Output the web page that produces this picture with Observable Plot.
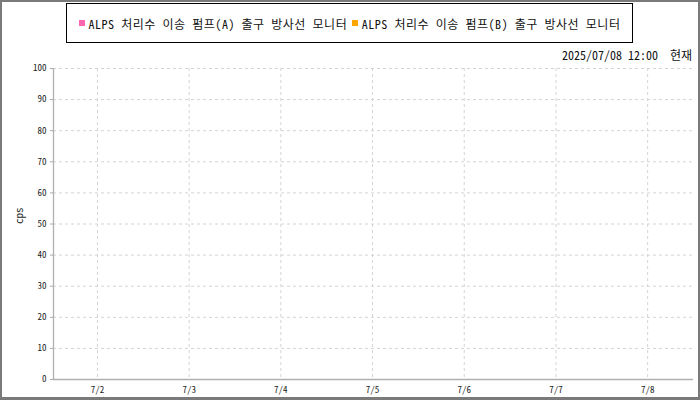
<!DOCTYPE html>
<html>
<head>
<meta charset="utf-8">
<script src="https://cdn.jsdelivr.net/npm/d3@7"></script>
<script src="https://cdn.jsdelivr.net/npm/@observablehq/plot@0.6"></script>
<style>
  html, body { margin: 0; padding: 0; background: #fff; }
  #wrap { position: relative; width: 700px; height: 400px; overflow: hidden;
    font-family: "Noto Sans Mono CJK KR", "Noto Sans CJK KR", "DejaVu Sans Mono", monospace; }
  #frame { position: absolute; left: 0; top: 0; width: 700px; height: 400px; box-sizing: border-box;
    border: 2px solid #7a7a7a; border-bottom-width: 3px; pointer-events: none; z-index: 5; }
  #header { position: relative; height: 62px; }
  #legend { position: absolute; left: 66px; top: 3px; width: 567px; height: 40px; box-sizing: border-box;
    border: 1.3px solid #000; display: flex; align-items: center; padding-left: 12px; font-size: 12px; color: #111; white-space: nowrap; letter-spacing: 0.54px; }
  .item { display: inline-flex; align-items: center; margin-right: 5px; }
  .sw { width: 6px; height: 6px; display: inline-block; margin-right: 3.5px; }
  #stamp { position: absolute; right: 8px; top: 46px; font-size: 12px; color: #111; white-space: pre; }
  svg { display: block; }
</style>
</head>
<body>
<div id="wrap">
  <div id="frame"></div>
  <div id="header">
    <div id="legend"></div>
    <div id="stamp"></div>
  </div>
  <div id="chart"></div>
</div>
<script>
// ---- data ----
const seriesNames = ["ALPS 처리수 이송 펌프(A) 출구 방사선 모니터", "ALPS 처리수 이송 펌프(B) 출구 방사선 모니터"];
const seriesColors = ["#ff66b2", "#ffa500"];
const seriesA = [];   // no values shown in the reference
const seriesB = [];   // no values shown in the reference
const xTickDates = ["2025-07-02", "2025-07-03", "2025-07-04", "2025-07-05", "2025-07-06", "2025-07-07", "2025-07-08"];
const xDomain = ["2025-07-01T12:30", "2025-07-08T12:00"];
const yTicks = [0, 10, 20, 30, 40, 50, 60, 70, 80, 90, 100];
const yDomain = [0, 100];
const yLabel = "cps";
const stampText = "2025/07/08 12:00  현재";

// ---- legend / header ----
const legend = document.getElementById("legend");
seriesNames.forEach((name, i) => {
  const it = document.createElement("span");
  it.className = "item";
  const sw = document.createElement("span");
  sw.className = "sw";
  sw.style.background = seriesColors[i];
  it.appendChild(sw);
  it.appendChild(document.createTextNode(name));
  legend.appendChild(it);
});
document.getElementById("stamp").textContent = stampText;

// ---- chart ----
const parseDay = s => { const [y, m, d] = s.split("-").map(Number); return new Date(y, m - 1, d); };
const parseDT = s => { const [dp, tp] = s.split("T"); const [y, m, d] = dp.split("-").map(Number); const [hh, mm] = tp.split(":").map(Number); return new Date(y, m - 1, d, hh, mm); };
const ticksX = xTickDates.map(parseDay);
const domX = xDomain.map(parseDT);

const rows = [
  ...seriesA.map(d => ({...d, series: seriesNames[0]})),
  ...seriesB.map(d => ({...d, series: seriesNames[1]}))
];

const fontFam = '"Noto Sans Mono CJK KR", "Noto Sans CJK KR", "DejaVu Sans Mono", monospace';

const chart = Plot.plot({
  width: 700,
  height: 338,
  marginLeft: 53,
  marginRight: 7,
  marginTop: 6,
  marginBottom: 21,
  style: { fontFamily: fontFam, fontSize: "9px", color: "#333", background: "#fff", overflow: "visible" },
  x: { type: "time", domain: domX, ticks: ticksX, tickFormat: d => `${d.getMonth() + 1}/${d.getDate()}` , label: null },
  y: { domain: yDomain, ticks: yTicks, label: null },
  color: { domain: seriesNames, range: seriesColors },
  marks: [
    Plot.gridX(ticksX, { stroke: "#d4d4d4", strokeOpacity: 1, strokeDasharray: "3,3" }),
    Plot.gridY(yTicks, { stroke: "#d4d4d4", strokeOpacity: 1, strokeDasharray: "3,3" }),
    Plot.axisX({ ticks: ticksX, tickFormat: d => `${d.getMonth() + 1}/${d.getDate()}`, tickSize: 0, tickPadding: 7, fill: "#222", label: null }),
    Plot.axisY({ ticks: yTicks, tickSize: 3, tickPadding: 4, stroke: "#aaa", fill: "#222", label: null }),
    Plot.ruleY([yDomain[0]], { stroke: "#b0b0b0", strokeWidth: 1.3 }),
    Plot.ruleX([domX[0]], { stroke: "#b0b0b0", strokeWidth: 1.3 }),
    Plot.line(rows, { x: "time", y: "value", stroke: "series", strokeWidth: 1.5 }),
    Plot.text([yLabel], { frameAnchor: "left", dx: -34, rotate: -90, text: d => d, fontSize: 11, fill: "#222" })
  ]
});
document.getElementById("chart").appendChild(chart);
</script>
</body>
</html>
